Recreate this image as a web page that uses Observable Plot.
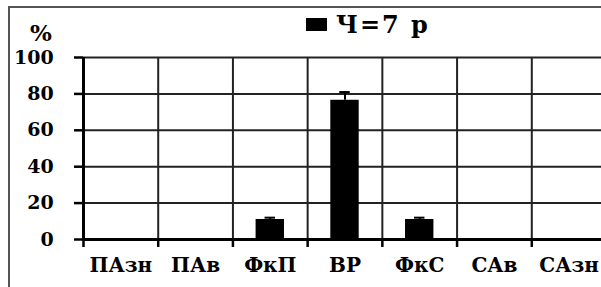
<!DOCTYPE html>
<html><head><meta charset="utf-8">
<script src="https://cdn.jsdelivr.net/npm/d3@7"></script>
<script src="https://cdn.jsdelivr.net/npm/@observablehq/plot@0.6"></script>
<style>
html,body{margin:0;padding:0;overflow:hidden;background:#fff;width:601px;height:287px;}
#wrap{position:relative;width:601px;height:287px;overflow:hidden;}
#frame{position:absolute;left:8px;top:6px;width:640px;height:320px;border:2px solid #555;box-sizing:border-box;}
.lbl{position:absolute;font-family:"DejaVu Serif";font-weight:bold;color:#000;white-space:nowrap;line-height:1;}
#chart{position:absolute;left:0;top:0;}
</style></head>
<body><div id="wrap"><div id="frame"></div><div id="chart"></div>
<div class="lbl" id="pct" style="left:30px;top:21px;font-size:23px;">%</div>
<div class="lbl" id="leg" style="left:306px;top:13px;font-size:24px;letter-spacing:2px;"><span style="display:inline-block;width:21px;height:13px;background:#000;margin-right:9px;vertical-align:2px;"></span><span id="legtxt"></span></div>
</div>
<script>
const categories = ["ПАзн", "ПАв", "ФкП", "ВР", "ФкС", "САв", "САзн"];
const values = [0, 0, 11, 76.5, 11, 0, 0];
const errors = [0, 0, 1, 4.5, 1, 0, 0];
const yTicks = [0, 20, 40, 60, 80, 100];
const seriesName = "Ч=7 р";

document.getElementById("legtxt").textContent = seriesName;

const data = categories.map((c, i) => ({c, i, v: values[i], e: errors[i]}));
const withBars = data.filter(d => d.v > 0);
const bounds = d3.range(categories.length + 1);

const chart = Plot.plot({
  width: 601,
  height: 287,
  marginLeft: 83,
  marginRight: -5,
  marginTop: 57,
  marginBottom: 48,
  style: {fontFamily: "DejaVu Serif", fontWeight: "bold", fontSize: "19px", color: "#000", background: "transparent", overflow: "visible"},
  x: {type: "linear", domain: [0, categories.length], range: [83, 606], axis: null},
  y: {domain: [0, 100], range: [239, 57], axis: null},
  marks: [
    Plot.ruleY(yTicks.filter(t => t > 0), {stroke: "#222", strokeWidth: 2}),
    Plot.ruleX(bounds.filter(b => b > 0), {y1: 0, y2: 100, stroke: "#222", strokeWidth: 2}),
    Plot.rectY(withBars, {x1: d => d.i + 0.31, x2: d => d.i + 0.69, y1: 0, y2: "v", fill: "#000"}),
    Plot.ruleX(withBars, {x: d => d.i + 0.5, y1: "v", y2: d => d.v + d.e, stroke: "#000", strokeWidth: 2}),
    Plot.ruleY(withBars, {x1: d => d.i + 0.43, x2: d => d.i + 0.57, y: d => d.v + d.e, stroke: "#000", strokeWidth: 2}),
    Plot.axisY({ticks: yTicks, tickSize: 9, tickFormat: () => "", label: null, strokeWidth: 2.5}),
    Plot.axisX({ticks: bounds, tickSize: 8, tickFormat: () => "", label: null, strokeWidth: 2.5}),
    Plot.text(yTicks, {x: () => -0.4, y: d => d, text: d => String(d), textAnchor: "end", fontSize: 19, fontWeight: "bold", fill: "#000", ariaLabel: "ylabels"}),
    Plot.text(categories, {x: (c, i) => i + 0.5, y: 0, text: d => d, dy: 26, fontSize: 20, fontWeight: "bold", fill: "#000", ariaLabel: "xlabels"}),
    Plot.ruleX([0], {y1: 0, y2: 100, stroke: "#000", strokeWidth: 3}),
    Plot.ruleY([0], {stroke: "#000", strokeWidth: 3})
  ]
});
d3.select(chart).selectAll('g[aria-label="xlabels"] text').style("letter-spacing", "1.5px");
document.getElementById("chart").appendChild(chart);
</script></body></html>
